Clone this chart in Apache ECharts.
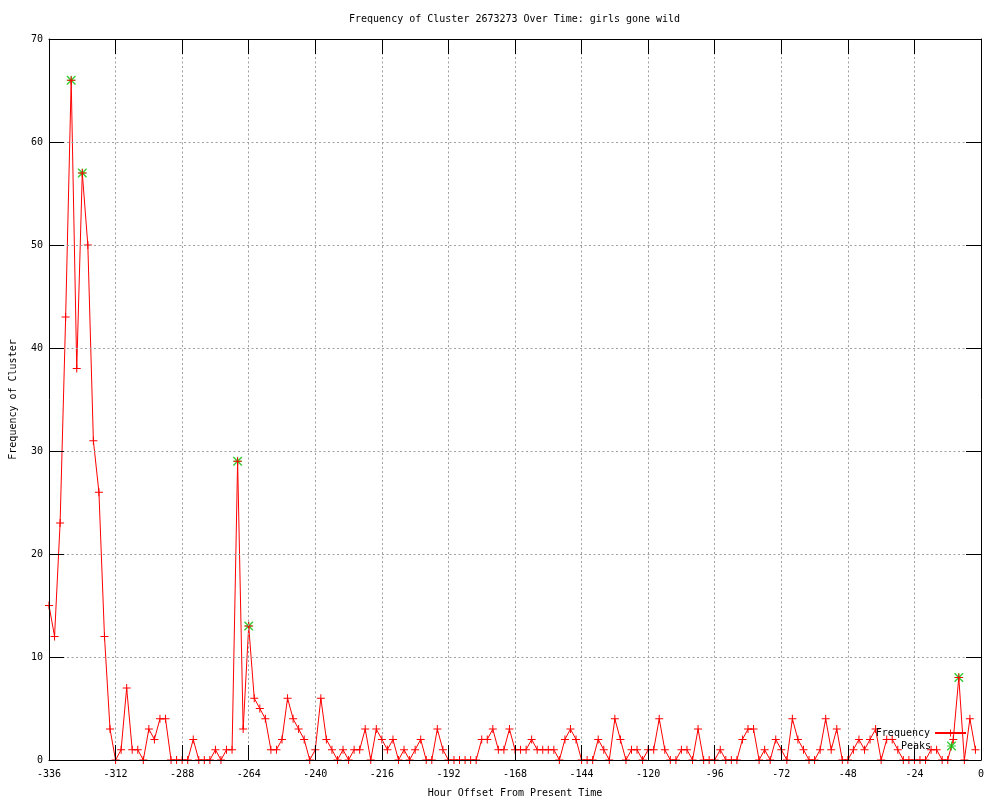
<!DOCTYPE html>
<html><head><meta charset="utf-8">
<script src="https://cdn.jsdelivr.net/npm/echarts@6/dist/echarts.min.js"></script>
<style>html,body{margin:0;padding:0;background:#fff}#c{width:1000px;height:800px}</style>
</head><body><div id="c"></div>
<script>
const hours = [-336,-334,-332,-330,-328,-326,-324,-322,-320,-318,-316,-314,-312,-310,-308,-306,-304,-302,-300,-298,
-296,-294,-292,-290,-288,-286,-284,-282,-280,-278,-276,-274,-272,-270,-268,-266,-264,-262,-260,-258,
-256,-254,-252,-250,-248,-246,-244,-242,-240,-238,-236,-234,-232,-230,-228,-226,-224,-222,-220,-218,
-216,-214,-212,-210,-208,-206,-204,-202,-200,-198,-196,-194,-192,-190,-188,-186,-184,-182,-180,-178,
-176,-174,-172,-170,-168,-166,-164,-162,-160,-158,-156,-154,-152,-150,-148,-146,-144,-142,-140,-138,
-136,-134,-132,-130,-128,-126,-124,-122,-120,-118,-116,-114,-112,-110,-108,-106,-104,-102,-100,-98,
-96,-94,-92,-90,-88,-86,-84,-82,-80,-78,-76,-74,-72,-70,-68,-66,-64,-62,-60,-58,
-56,-54,-52,-50,-48,-46,-44,-42,-40,-38,-36,-34,-32,-30,-28,-26,-24,-22,-20,-18,
-16,-14,-12,-10,-8,-6,-4,-2];
const frequency = [15,12,23,43,66,38,57,50,31,26,12,3,
0,1,7,1,1,0,3,2,4,4,0,0,
0,0,2,0,0,0,1,0,1,1,29,3,
13,6,5,4,1,1,2,6,4,3,2,0,
1,6,2,1,0,1,0,1,1,3,0,3,
2,1,2,0,1,0,1,2,0,0,3,1,
0,0,0,0,0,0,2,2,3,1,1,3,
1,1,1,2,1,1,1,1,0,2,3,2,
0,0,0,2,1,0,4,2,0,1,1,0,
1,1,4,1,0,0,1,1,0,3,0,0,
0,1,0,0,0,2,3,3,0,1,0,2,
1,0,4,2,1,0,0,1,4,1,3,0,
0,1,2,1,2,3,0,2,2,1,0,0,
0,0,0,1,1,0,0,2,8,0,4,1];
const peakHours = [-328,-324,-268,-264,-8];
const peakValues = [66,57,29,13,8];
const xTickLabels = [-336,-312,-288,-264,-240,-216,-192,-168,-144,-120,-96,-72,-48,-24,0];
const yTickLabels = [0,10,20,30,40,50,60,70];

const FONT = 'DejaVu Sans Mono';
const plusPath = 'path://M0,3.5 L8,3.5 L8,4.5 L0,4.5 Z M3.5,0 L4.5,0 L4.5,8 L3.5,8 Z';
const starPath = 'path://M0,4 L9,4 L9,5 L0,5 Z M4,0 L5,0 L5,9 L4,9 Z M0,0 L1,0 L9,8 L9,9 L8,9 L0,1 Z M8,0 L9,0 L9,1 L1,9 L0,9 L0,8 Z';
const starLegendPath = 'path://M11,4 L20,4 L20,5 L11,5 Z M15,0 L16,0 L16,9 L15,9 Z M11,0 L12,0 L20,8 L20,9 L19,9 L11,1 Z M19,0 L20,0 L20,1 L12,9 L11,9 L11,8 Z M0,4.5 L0,4.5 L0,4.5 Z M31,4.5 L31,4.5 L31,4.5 Z';

const xMin = xTickLabels[0], xMax = xTickLabels[xTickLabels.length-1], xStep = xTickLabels[1]-xTickLabels[0];
const yMin = yTickLabels[0], yMax = yTickLabels[yTickLabels.length-1], yStep = yTickLabels[1]-yTickLabels[0];

const freqData = hours.map((h,i)=>[h, frequency[i]]);
const peakData = peakHours.map((h,i)=>[h, peakValues[i]]);

const textBase = {fontFamily: FONT, fontSize: 10, color: '#000'};
const tickStyle = {show: true, inside: true, length: 15, lineStyle: {color: '#000', width: 1}};
const lineBlack = {show: true, onZero: false, lineStyle: {color: '#000', width: 1}};
const gridDash = {show: true, lineStyle: {color: '#a0a0a0', width: 1, type: [2, 2.5]}};

const chart = echarts.init(document.getElementById('c'), null, {renderer: 'canvas'});
chart.setOption({
  animation: false,
  backgroundColor: '#fff',
  title: {
    text: 'Frequency of Cluster 2673273 Over Time: girls gone wild',
    left: 349, top: 14, padding: 0,
    textStyle: Object.assign({fontWeight: 'normal'}, textBase)
  },
  grid: {left: 49, right: 19, top: 39, bottom: 40, containLabel: false, outerBoundsMode: 'none'},
  legend: [
    {data: ['Frequency'], right: 33, top: 728, orient: 'vertical', align: 'right',
     itemWidth: 31, itemHeight: 9, padding: 0, selectedMode: false, textStyle: textBase},
    {data: [{name: 'Peaks', icon: starLegendPath}], right: 33, top: 741, orient: 'vertical', align: 'right',
     itemWidth: 31, itemHeight: 9, padding: 0, selectedMode: false, textStyle: textBase}
  ],
  xAxis: [
    {type: 'value', position: 'bottom', min: xMin, max: xMax, interval: xStep, z: 4,
     axisLine: lineBlack, axisTick: tickStyle, splitLine: gridDash,
     axisLabel: Object.assign({margin: 9}, textBase),
     name: 'Hour Offset From Present Time', nameLocation: 'middle', nameGap: 28, nameTextStyle: textBase},
    {type: 'value', position: 'top', min: xMin, max: xMax, interval: xStep, z: 4,
     axisLine: lineBlack, axisTick: tickStyle, splitLine: {show: false}, axisLabel: {show: false}}
  ],
  yAxis: [
    {type: 'value', position: 'left', min: yMin, max: yMax, interval: yStep, z: 4,
     axisLine: lineBlack, axisTick: tickStyle, splitLine: gridDash,
     axisLabel: Object.assign({margin: 6}, textBase),
     name: 'Frequency of Cluster', nameLocation: 'middle', nameGap: 31, nameRotate: 90, nameTextStyle: textBase},
    {type: 'value', position: 'right', min: yMin, max: yMax, interval: yStep, z: 4,
     axisLine: lineBlack, axisTick: tickStyle, splitLine: {show: false}, axisLabel: {show: false}}
  ],
  series: [
    {name: 'Peaks', type: 'scatter', xAxisIndex: 0, yAxisIndex: 0, data: peakData,
     symbol: starPath, symbolSize: 9, itemStyle: {color: '#00c000'}, z: 2, emphasis: {disabled: true}},
    {name: 'Frequency', type: 'line', xAxisIndex: 0, yAxisIndex: 0, data: freqData,
     symbol: plusPath, symbolSize: 8, showAllSymbol: true,
     lineStyle: {color: '#ff0000', width: 1}, itemStyle: {color: '#ff0000'}, z: 3, emphasis: {disabled: true}}
  ]
});
</script>
</body></html>
